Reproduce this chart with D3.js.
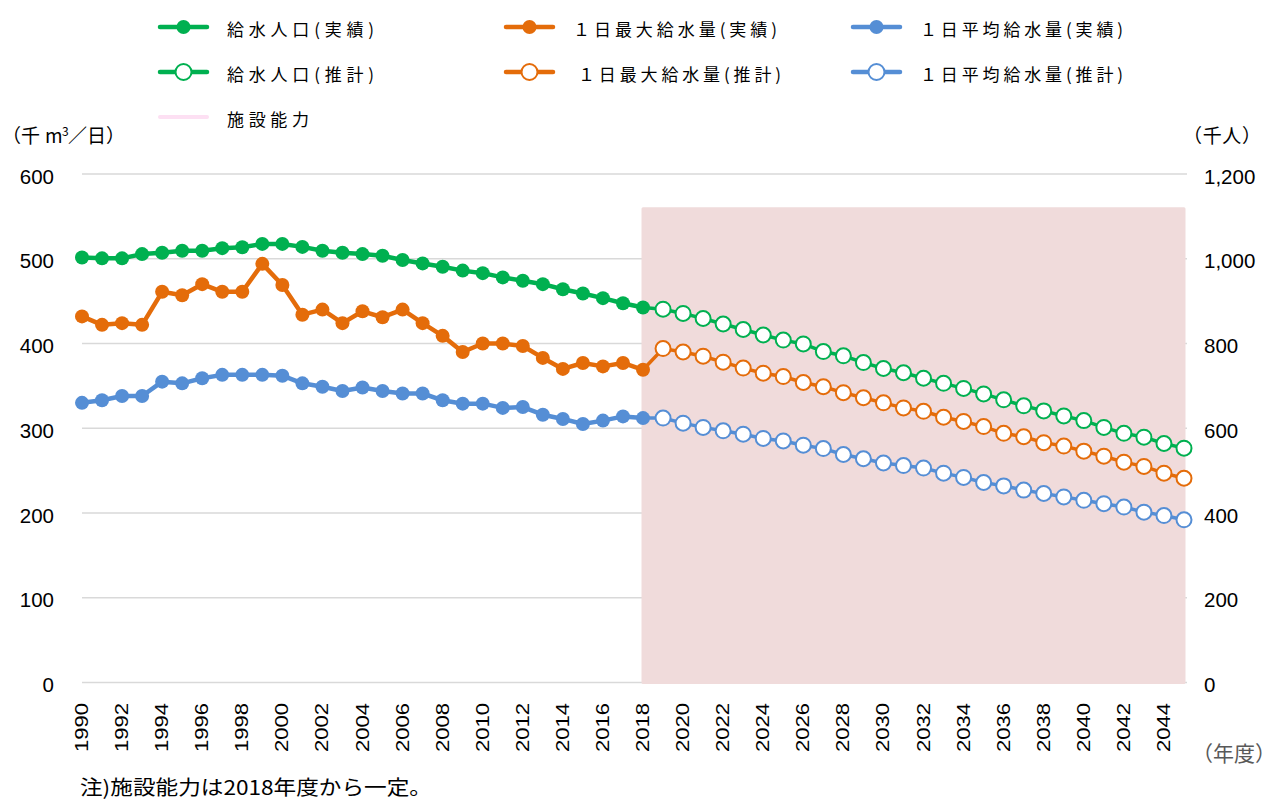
<!doctype html>
<html>
<head>
<meta charset="utf-8">
<script src="https://cdn.jsdelivr.net/npm/d3@7/dist/d3.min.js"></script>
<style>
body { margin: 0; background: #fff; }
text { fill: #000; }
.jp { font-family: "Noto Sans CJK JP", "Noto Sans", sans-serif; }
.num { font-family: "Liberation Sans", Arial, sans-serif; }
</style>
</head>
<body>
<script>

// categories
var years = d3.range(1990, 2046);
var actualYears = d3.range(1990, 2019);
var projYears = d3.range(2019, 2046);

// 給水人口 (千人, right axis)
var popActual = [1003,1001,1001,1011,1014,1019,1019,1025,1027,1035,1035,1028,1019,1014,1011,1007,997,989,981,972,966,956,948,940,928,918,907,895,885];
var popProj = [881,871,859,846,833,820,808,799,781,771,755,741,731,718,706,694,681,667,653,641,629,618,602,588,579,564,553];
// 1日最大給水量 (千m3/日, left axis)
var maxActual = [432,422,424,422,461,457,470,461,461,494,469,434,440,424,438,431,440,424,409,390,400,400,397,383,370,377,373,377,369];
var maxProj = [394,390,385,378,371,365,361,354,349,342,336,330,324,320,313,308,302,294,290,283,279,273,267,260,255,247,241];
// 1日平均給水量 (千m3/日, left axis)
var avgActual = [330,333,338,338,355,353,359,363,363,363,362,353,349,344,348,344,341,341,333,329,329,324,325,316,311,305,309,314,312];
var avgProj = [312,306,301,297,293,288,285,280,276,269,264,259,256,253,247,242,236,232,227,223,219,215,211,207,201,197,192];
// 施設能力 (2018年度から一定)
var capYears = d3.range(2018, 2046);
var capacity = 559;

var leftTicks = [0,100,200,300,400,500,600];
var rightTicks = [0,200,400,600,800,1000,1200];
var xTicks = years.filter(y => y % 2 == 0);

var green = "#00b050", orange = "#e46c0a", blue = "#558ed5";

var svg = d3.select("body").append("svg")
  .attr("width", 1263)
  .attr("height", 800);

var x = d3.scalePoint().domain(years).range([82, 1184]);
var yL = d3.scaleLinear().domain([0, 600]).range([682.5, 174]);
var yR = d3.scaleLinear().domain([0, 1200]).range([682.5, 174]);

// gridlines
svg.append("g").selectAll("line")
  .data(leftTicks)
  .join("line")
  .attr("x1", 82).attr("x2", 1187)
  .attr("y1", d => yL(d)).attr("y2", d => yL(d))
  .attr("stroke", "#d9d9d9")
  .attr("stroke-width", 1.5);

// capacity area
var capArea = d3.area()
  .x(d => x(d))
  .y0(yL(0))
  .y1(yL(capacity));
svg.append("path")
  .datum(capYears)
  .attr("d", capArea)
  .attr("fill", "#f0dbdb")
  .attr("stroke", "#f0dbdb")
  .attr("stroke-width", 3)
  .attr("stroke-linejoin", "round");

// left axis labels
svg.append("g").selectAll("text")
  .data(leftTicks)
  .join("text")
  .attr("class", "num")
  .attr("x", 54)
  .attr("y", d => yL(d) + 2)
  .attr("text-anchor", "end")
  .attr("dominant-baseline", "central")
  .style("font-size", "20.5px")
  .text(d => d);

// right axis labels
svg.append("g").selectAll("text")
  .data(rightTicks)
  .join("text")
  .attr("class", "num")
  .attr("x", 1204)
  .attr("y", d => yR(d) + 2)
  .attr("dominant-baseline", "central")
  .style("font-size", "20.5px")
  .text(d => d3.format(",")(d));

// x labels (rotated)
svg.append("g").selectAll("text")
  .data(xTicks)
  .join("text")
  .attr("class", "num")
  .attr("transform", d => "translate(" + (x(d) + 6) + ",703) rotate(-90)")
  .attr("text-anchor", "end")
  .attr("textLength", 49)
  .attr("lengthAdjust", "spacingAndGlyphs")
  .style("font-size", "17.5px")
  .text(d => d);

// axis titles
var titleL = [
  {t: "（千", x: 2, size: 19, dy: 0},
  {t: "m", x: 45, size: 19, dy: 0},
  {t: "3", x: 62, size: 12, dy: -7},
  {t: "／日）", x: 68, size: 19, dy: 0}
];
svg.append("g").selectAll("text")
  .data(titleL)
  .join("text")
  .attr("class", "jp")
  .attr("x", d => d.x)
  .attr("y", d => 143 + d.dy)
  .style("font-size", d => d.size + "px")
  .text(d => d.t);

svg.append("text").attr("class", "jp")
  .attr("x", 1183).attr("y", 143)
  .attr("textLength", 78)
  .style("font-size", "19px")
  .text("（千人）");

svg.append("text").attr("class", "jp")
  .attr("x", 1192).attr("y", 761)
  .style("font-size", "21px")
  .style("fill", "#595959")
  .text("（年度）");

svg.append("text").attr("class", "jp")
  .attr("x", 80).attr("y", 795)
  .attr("textLength", 352)
  .attr("lengthAdjust", "spacingAndGlyphs")
  .style("font-size", "20px")
  .text("注)施設能力は2018年度から一定。");

// series
var series = [
  {color: green, y: yR, actual: popActual, proj: popProj},
  {color: orange, y: yL, actual: maxActual, proj: maxProj},
  {color: blue, y: yL, actual: avgActual, proj: avgProj}
];

series.forEach(s => {
  var act = actualYears.map((yr, i) => ({yr: yr, v: s.actual[i]}));
  var prj = projYears.map((yr, i) => ({yr: yr, v: s.proj[i]}));
  var line = d3.line().x(d => x(d.yr)).y(d => s.y(d.v));

  svg.append("path")
    .datum([act[act.length - 1]].concat(prj))
    .attr("d", line)
    .attr("fill", "none")
    .attr("stroke", s.color)
    .attr("stroke-width", 3.5);

  svg.append("path")
    .datum(act)
    .attr("d", line)
    .attr("fill", "none")
    .attr("stroke", s.color)
    .attr("stroke-width", 4.5)
    .attr("stroke-linejoin", "round");

  svg.append("g").selectAll("circle")
    .data(act)
    .join("circle")
    .attr("cx", d => x(d.yr))
    .attr("cy", d => s.y(d.v))
    .attr("r", 7)
    .attr("fill", s.color);

  svg.append("g").selectAll("circle")
    .data(prj)
    .join("circle")
    .attr("cx", d => x(d.yr))
    .attr("cy", d => s.y(d.v))
    .attr("r", 7.5)
    .attr("fill", "#fff")
    .attr("stroke", s.color)
    .attr("stroke-width", 2);
});

// legend
var legend = [
  {col: 0, row: 0, color: green, open: false, label: "給水人口(実績)", w: 147},
  {col: 1, row: 0, color: orange, open: false, label: "１日最大給水量(実績)", w: 204},
  {col: 2, row: 0, color: blue, open: false, label: "１日平均給水量(実績)", w: 203},
  {col: 0, row: 1, color: green, open: true, label: "給水人口(推計)", w: 147},
  {col: 1, row: 1, color: orange, open: true, label: "１日最大給水量(推計)", w: 203, dx: 5},
  {col: 2, row: 1, color: blue, open: true, label: "１日平均給水量(推計)", w: 203},
  {col: 0, row: 2, color: "#fde0f3", open: null, label: "施設能力", w: 82}
];
var colX = [160, 506, 853];
var rowY = [27, 72, 117];

var lg = svg.append("g").selectAll("g")
  .data(legend)
  .join("g")
  .attr("transform", d => "translate(" + colX[d.col] + "," + rowY[d.row] + ")");

lg.append("line")
  .attr("x1", 0).attr("x2", 47)
  .attr("stroke", d => d.color)
  .attr("stroke-width", d => d.open === null ? 4 : 4.5)
  .attr("stroke-linecap", "round");

lg.filter(d => d.open !== null).append("circle")
  .attr("cx", 23.5)
  .attr("r", d => d.open ? 8 : 7)
  .attr("fill", d => d.open ? "#fff" : d.color)
  .attr("stroke", d => d.open ? d.color : "none")
  .attr("stroke-width", 2);

lg.append("text")
  .attr("class", "jp")
  .attr("x", d => 67 + (d.dx || 0))
  .attr("y", 1)
  .attr("dominant-baseline", "central")
  .attr("textLength", d => d.w)
  .style("font-size", "17px")
  .text(d => d.label);

</script>
</body>
</html>
